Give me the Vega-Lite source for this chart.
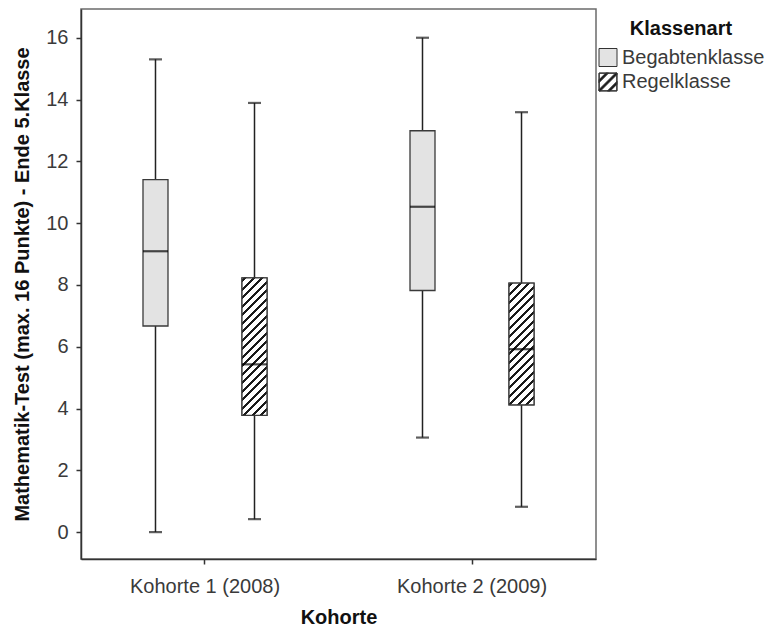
{
  "$schema": "https://vega.github.io/schema/vega-lite/v6.json",
  "width": 515,
  "height": 550,
  "autosize": {"type": "none"},
  "padding": {"left": 81, "top": 9, "right": 173, "bottom": 69},
  "background": "white",
  "config": {
    "font": "Liberation Sans",
    "view": {"stroke": "#6b6b6b", "strokeWidth": 1.5},
    "axis": {
      "grid": false,
      "domainColor": "#333333",
      "domainWidth": 1.5,
      "tickColor": "#333333",
      "tickWidth": 1.5,
      "tickSize": 5,
      "labelFont": "Liberation Sans",
      "labelFontSize": 20,
      "labelColor": "#3a3a3a",
      "titleFont": "Liberation Sans",
      "titleFontSize": 20,
      "titleFontWeight": "bold",
      "titleColor": "#111111"
    },
    "legend": {
      "orient": "none",
      "legendX": 517,
      "legendY": 9.5,
      "padding": 0,
      "symbolSize": 324,
      "symbolStrokeColor": "#333333",
      "symbolStrokeWidth": 1,
      "symbolOpacity": 1,
      "labelFont": "Liberation Sans",
      "labelFontSize": 20,
      "labelColor": "#3a3a3a",
      "labelOffset": 4,
      "rowPadding": 2.5,
      "titleFont": "Liberation Sans",
      "titleFontSize": 20,
      "titleFontWeight": "bold",
      "titleColor": "#111111",
      "titleAnchor": "middle",
      "titlePadding": 9
    }
  },
  "data": {
    "values": [
      {"Kohorte": "Kohorte 1 (2008)", "Klassenart": "Begabtenklasse", "min": 0, "q1": 6.67, "median": 9.09, "q3": 11.41, "max": 15.3},
      {"Kohorte": "Kohorte 1 (2008)", "Klassenart": "Regelklasse", "min": 0.42, "q1": 3.78, "median": 5.43, "q3": 8.23, "max": 13.89},
      {"Kohorte": "Kohorte 2 (2009)", "Klassenart": "Begabtenklasse", "min": 3.06, "q1": 7.82, "median": 10.53, "q3": 12.99, "max": 16},
      {"Kohorte": "Kohorte 2 (2009)", "Klassenart": "Regelklasse", "min": 0.82, "q1": 4.12, "median": 5.92, "q3": 8.06, "max": 13.59}
    ]
  },
  "encoding": {
    "x": {
      "field": "Kohorte", "type": "nominal",
      "scale": {"paddingInner": 0.2584, "paddingOuter": 0.0936},
      "axis": {"title": "Kohorte", "labelAngle": 0, "labelPadding": 12, "titleBaseline": "alphabetic", "titleY": 64}
    },
    "xOffset": {
      "field": "Klassenart", "type": "nominal",
      "scale": {"domain": ["Begabtenklasse", "Regelklasse"], "paddingInner": 0, "paddingOuter": 0}
    }
  },
  "layer": [
    {
      "mark": {"type": "rule", "color": "#222222", "strokeWidth": 1.5},
      "encoding": {
        "y": {
          "field": "min", "type": "quantitative",
          "scale": {"domain": [-0.87, 16.93], "nice": false, "zero": false},
          "axis": {
            "title": "Mathematik-Test (max. 16 Punkte) - Ende 5.Klasse",
            "values": [0, 2, 4, 6, 8, 10, 12, 14, 16],
            "labelPadding": 8,
            "titleBaseline": "alphabetic",
            "titleX": -53
          }
        },
        "y2": {"field": "max"}
      }
    },
    {
      "mark": {"type": "tick", "color": "#1a1a1a", "size": 13, "thickness": 2.2},
      "encoding": {"y": {"field": "min", "type": "quantitative"}}
    },
    {
      "mark": {"type": "tick", "color": "#1a1a1a", "size": 13, "thickness": 2.2},
      "encoding": {"y": {"field": "max", "type": "quantitative"}}
    },
    {
      "mark": {"type": "bar", "width": 25, "stroke": "#3a3a3a", "strokeWidth": 1.3},
      "encoding": {
        "y": {"field": "q1", "type": "quantitative"},
        "y2": {"field": "q3"},
        "fill": {
          "field": "Klassenart", "type": "nominal",
          "scale": {"domain": ["Begabtenklasse", "Regelklasse"], "range": ["#e3e3e3", "#1a1a1a"]},
          "legend": {
            "title": "Klassenart",
            "encode": {
              "symbols": {
                "update": {
                  "stroke": {"value": "#333333"},
                  "strokeWidth": {"value": 1},
                  "opacity": {"value": 1}
                }
              }
            }
          }
        }
      }
    },
    {
      "mark": {"type": "point", "filled": true, "opacity": 0},
      "encoding": {
        "y": {"field": "median", "type": "quantitative"},
        "fill": {"field": "Klassenart", "type": "nominal"},
        "shape": {
          "field": "Klassenart", "type": "nominal",
          "scale": {"domain": ["Begabtenklasse", "Regelklasse"], "range": [
            "square",
            "M-1,-1H1V1H-1Z M-0.98,-0.98V0.98H0.98V-0.98Z M-1,-0.25L-0.25,-1L0.07,-1L-1,0.07Z M-1,0.84L0.84,-1L1,-1L1,-0.84L-0.84,1L-1,1Z M-0.07,1L1,-0.07L1,0.25L0.25,1Z"
          ]},
          "legend": {
            "title": "Klassenart",
            "encode": {
              "symbols": {
                "update": {
                  "stroke": {"value": "#333333"},
                  "strokeWidth": {"value": 1},
                  "opacity": {"value": 1}
                }
              }
            }
          }
        }
      }
    },
    {
      "transform": [{"filter": "datum.Klassenart === 'Regelklasse' && datum.Kohorte === 'Kohorte 1 (2008)'"}],
      "mark": {"type": "bar", "width": 25, "stroke": "#3a3a3a", "strokeWidth": 1.3,
        "fill": {"gradient": "linear", "x1": 0, "y1": 0, "x2": 0.2176, "y2": 1.1968, "stops": [
          {"offset": 0, "color": "#ffffff"},
          {"offset": 0.01, "color": "#ffffff"}, {"offset": 0.01, "color": "#1a1a1a"}, {"offset": 0.028, "color": "#1a1a1a"}, {"offset": 0.028, "color": "#ffffff"},
          {"offset": 0.06, "color": "#ffffff"}, {"offset": 0.06, "color": "#1a1a1a"}, {"offset": 0.078, "color": "#1a1a1a"}, {"offset": 0.078, "color": "#ffffff"},
          {"offset": 0.11, "color": "#ffffff"}, {"offset": 0.11, "color": "#1a1a1a"}, {"offset": 0.128, "color": "#1a1a1a"}, {"offset": 0.128, "color": "#ffffff"},
          {"offset": 0.16, "color": "#ffffff"}, {"offset": 0.16, "color": "#1a1a1a"}, {"offset": 0.178, "color": "#1a1a1a"}, {"offset": 0.178, "color": "#ffffff"},
          {"offset": 0.21, "color": "#ffffff"}, {"offset": 0.21, "color": "#1a1a1a"}, {"offset": 0.228, "color": "#1a1a1a"}, {"offset": 0.228, "color": "#ffffff"},
          {"offset": 0.26, "color": "#ffffff"}, {"offset": 0.26, "color": "#1a1a1a"}, {"offset": 0.278, "color": "#1a1a1a"}, {"offset": 0.278, "color": "#ffffff"},
          {"offset": 0.31, "color": "#ffffff"}, {"offset": 0.31, "color": "#1a1a1a"}, {"offset": 0.328, "color": "#1a1a1a"}, {"offset": 0.328, "color": "#ffffff"},
          {"offset": 0.36, "color": "#ffffff"}, {"offset": 0.36, "color": "#1a1a1a"}, {"offset": 0.378, "color": "#1a1a1a"}, {"offset": 0.378, "color": "#ffffff"},
          {"offset": 0.41, "color": "#ffffff"}, {"offset": 0.41, "color": "#1a1a1a"}, {"offset": 0.428, "color": "#1a1a1a"}, {"offset": 0.428, "color": "#ffffff"},
          {"offset": 0.46, "color": "#ffffff"}, {"offset": 0.46, "color": "#1a1a1a"}, {"offset": 0.478, "color": "#1a1a1a"}, {"offset": 0.478, "color": "#ffffff"},
          {"offset": 0.51, "color": "#ffffff"}, {"offset": 0.51, "color": "#1a1a1a"}, {"offset": 0.528, "color": "#1a1a1a"}, {"offset": 0.528, "color": "#ffffff"},
          {"offset": 0.56, "color": "#ffffff"}, {"offset": 0.56, "color": "#1a1a1a"}, {"offset": 0.578, "color": "#1a1a1a"}, {"offset": 0.578, "color": "#ffffff"},
          {"offset": 0.61, "color": "#ffffff"}, {"offset": 0.61, "color": "#1a1a1a"}, {"offset": 0.628, "color": "#1a1a1a"}, {"offset": 0.628, "color": "#ffffff"},
          {"offset": 0.66, "color": "#ffffff"}, {"offset": 0.66, "color": "#1a1a1a"}, {"offset": 0.678, "color": "#1a1a1a"}, {"offset": 0.678, "color": "#ffffff"},
          {"offset": 0.71, "color": "#ffffff"}, {"offset": 0.71, "color": "#1a1a1a"}, {"offset": 0.728, "color": "#1a1a1a"}, {"offset": 0.728, "color": "#ffffff"},
          {"offset": 0.76, "color": "#ffffff"}, {"offset": 0.76, "color": "#1a1a1a"}, {"offset": 0.778, "color": "#1a1a1a"}, {"offset": 0.778, "color": "#ffffff"},
          {"offset": 0.81, "color": "#ffffff"}, {"offset": 0.81, "color": "#1a1a1a"}, {"offset": 0.828, "color": "#1a1a1a"}, {"offset": 0.828, "color": "#ffffff"},
          {"offset": 0.86, "color": "#ffffff"}, {"offset": 0.86, "color": "#1a1a1a"}, {"offset": 0.878, "color": "#1a1a1a"}, {"offset": 0.878, "color": "#ffffff"},
          {"offset": 0.91, "color": "#ffffff"}, {"offset": 0.91, "color": "#1a1a1a"}, {"offset": 0.928, "color": "#1a1a1a"}, {"offset": 0.928, "color": "#ffffff"},
          {"offset": 0.96, "color": "#ffffff"}, {"offset": 0.96, "color": "#1a1a1a"}, {"offset": 0.978, "color": "#1a1a1a"}, {"offset": 0.978, "color": "#ffffff"},
          {"offset": 1, "color": "#ffffff"}
        ]}
      },
      "encoding": {
        "y": {"field": "q1", "type": "quantitative"},
        "y2": {"field": "q3"}
      }
    },
    {
      "transform": [{"filter": "datum.Klassenart === 'Regelklasse' && datum.Kohorte === 'Kohorte 2 (2009)'"}],
      "mark": {"type": "bar", "width": 25, "stroke": "#3a3a3a", "strokeWidth": 1.3,
        "fill": {"gradient": "linear", "x1": 0, "y1": 0, "x2": 0.2753, "y2": 1.3403, "stops": [
          {"offset": 0, "color": "#ffffff"},
          {"offset": 0.01, "color": "#ffffff"}, {"offset": 0.01, "color": "#1a1a1a"}, {"offset": 0.028, "color": "#1a1a1a"}, {"offset": 0.028, "color": "#ffffff"},
          {"offset": 0.06, "color": "#ffffff"}, {"offset": 0.06, "color": "#1a1a1a"}, {"offset": 0.078, "color": "#1a1a1a"}, {"offset": 0.078, "color": "#ffffff"},
          {"offset": 0.11, "color": "#ffffff"}, {"offset": 0.11, "color": "#1a1a1a"}, {"offset": 0.128, "color": "#1a1a1a"}, {"offset": 0.128, "color": "#ffffff"},
          {"offset": 0.16, "color": "#ffffff"}, {"offset": 0.16, "color": "#1a1a1a"}, {"offset": 0.178, "color": "#1a1a1a"}, {"offset": 0.178, "color": "#ffffff"},
          {"offset": 0.21, "color": "#ffffff"}, {"offset": 0.21, "color": "#1a1a1a"}, {"offset": 0.228, "color": "#1a1a1a"}, {"offset": 0.228, "color": "#ffffff"},
          {"offset": 0.26, "color": "#ffffff"}, {"offset": 0.26, "color": "#1a1a1a"}, {"offset": 0.278, "color": "#1a1a1a"}, {"offset": 0.278, "color": "#ffffff"},
          {"offset": 0.31, "color": "#ffffff"}, {"offset": 0.31, "color": "#1a1a1a"}, {"offset": 0.328, "color": "#1a1a1a"}, {"offset": 0.328, "color": "#ffffff"},
          {"offset": 0.36, "color": "#ffffff"}, {"offset": 0.36, "color": "#1a1a1a"}, {"offset": 0.378, "color": "#1a1a1a"}, {"offset": 0.378, "color": "#ffffff"},
          {"offset": 0.41, "color": "#ffffff"}, {"offset": 0.41, "color": "#1a1a1a"}, {"offset": 0.428, "color": "#1a1a1a"}, {"offset": 0.428, "color": "#ffffff"},
          {"offset": 0.46, "color": "#ffffff"}, {"offset": 0.46, "color": "#1a1a1a"}, {"offset": 0.478, "color": "#1a1a1a"}, {"offset": 0.478, "color": "#ffffff"},
          {"offset": 0.51, "color": "#ffffff"}, {"offset": 0.51, "color": "#1a1a1a"}, {"offset": 0.528, "color": "#1a1a1a"}, {"offset": 0.528, "color": "#ffffff"},
          {"offset": 0.56, "color": "#ffffff"}, {"offset": 0.56, "color": "#1a1a1a"}, {"offset": 0.578, "color": "#1a1a1a"}, {"offset": 0.578, "color": "#ffffff"},
          {"offset": 0.61, "color": "#ffffff"}, {"offset": 0.61, "color": "#1a1a1a"}, {"offset": 0.628, "color": "#1a1a1a"}, {"offset": 0.628, "color": "#ffffff"},
          {"offset": 0.66, "color": "#ffffff"}, {"offset": 0.66, "color": "#1a1a1a"}, {"offset": 0.678, "color": "#1a1a1a"}, {"offset": 0.678, "color": "#ffffff"},
          {"offset": 0.71, "color": "#ffffff"}, {"offset": 0.71, "color": "#1a1a1a"}, {"offset": 0.728, "color": "#1a1a1a"}, {"offset": 0.728, "color": "#ffffff"},
          {"offset": 0.76, "color": "#ffffff"}, {"offset": 0.76, "color": "#1a1a1a"}, {"offset": 0.778, "color": "#1a1a1a"}, {"offset": 0.778, "color": "#ffffff"},
          {"offset": 0.81, "color": "#ffffff"}, {"offset": 0.81, "color": "#1a1a1a"}, {"offset": 0.828, "color": "#1a1a1a"}, {"offset": 0.828, "color": "#ffffff"},
          {"offset": 0.86, "color": "#ffffff"}, {"offset": 0.86, "color": "#1a1a1a"}, {"offset": 0.878, "color": "#1a1a1a"}, {"offset": 0.878, "color": "#ffffff"},
          {"offset": 0.91, "color": "#ffffff"}, {"offset": 0.91, "color": "#1a1a1a"}, {"offset": 0.928, "color": "#1a1a1a"}, {"offset": 0.928, "color": "#ffffff"},
          {"offset": 1, "color": "#ffffff"}
        ]}
      },
      "encoding": {
        "y": {"field": "q1", "type": "quantitative"},
        "y2": {"field": "q3"}
      }
    },
    {
      "mark": {"type": "tick", "color": "#000000", "size": 25, "thickness": 2.2},
      "encoding": {"y": {"field": "median", "type": "quantitative"}}
    }
  ]
}
